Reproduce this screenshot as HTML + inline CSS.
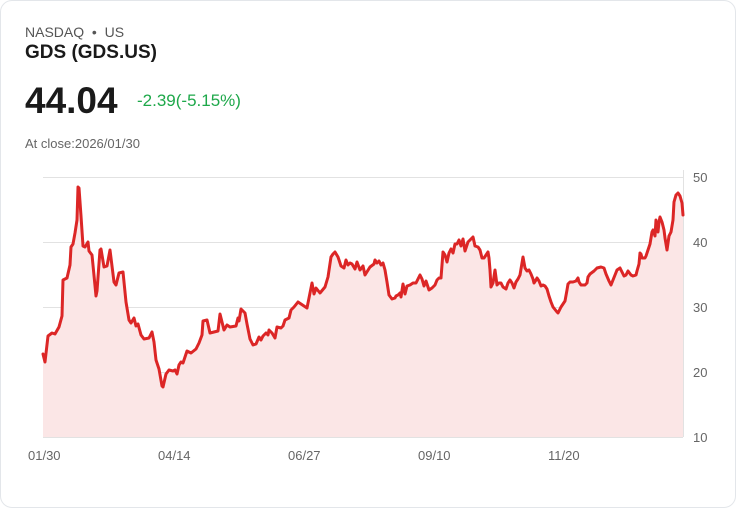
<!DOCTYPE html>
<html><head><style>
body{margin:0;background:#fff;font-family:"Liberation Sans",Arial,sans-serif;}
.card{position:absolute;left:0;top:0;width:734px;height:506px;border:1px solid #e3e6ea;border-radius:12px;background:#fff;}
.t{position:absolute;white-space:nowrap;}
</style></head><body>
<div class="card"></div>
<div class="t" style="left:25px;top:24px;font-size:14px;color:#555;">NASDAQ &nbsp;•&nbsp; US</div>
<div class="t" style="left:25px;top:42px;font-size:19px;font-weight:bold;color:#1a1a1a;">GDS (GDS.US)</div>
<div class="t" style="left:25px;top:80px;font-size:37px;font-weight:bold;color:#1a1a1a;">44.04</div>
<div class="t" style="left:137px;top:91px;font-size:17px;color:#1ea84a;">-2.39(-5.15%)</div>
<div class="t" style="left:25px;top:136px;font-size:13px;color:#666;">At close:2026/01/30</div>
<svg width="736" height="508" style="position:absolute;left:0;top:0">
<g stroke="#e2e2e2" stroke-width="1">
<line x1="43" y1="177.5" x2="683" y2="177.5"/><line x1="43" y1="242.5" x2="683" y2="242.5"/>
<line x1="43" y1="307.5" x2="683" y2="307.5"/><line x1="43" y1="372.5" x2="683" y2="372.5"/>
<line x1="43" y1="437.5" x2="683" y2="437.5"/><line x1="683.5" y1="170" x2="683.5" y2="437"/>
</g>
<g font-size="13" fill="#666" font-family="Liberation Sans,Arial,sans-serif">
<text x="693" y="182">50</text><text x="693" y="247">40</text><text x="693" y="312">30</text><text x="693" y="377">20</text><text x="693" y="442">10</text>
<text x="28" y="460">01/30</text><text x="158" y="460">04/14</text><text x="288" y="460">06/27</text><text x="418" y="460">09/10</text><text x="548" y="460">11/20</text>
</g>
<path id="p" fill="#fbe6e6" stroke="none" d="M43,437 L43,354 45,362 48,336 52,333 55,334 59,327 62,316 63,280 67,278 70,265 71,247 73,244 75,233 77,220 78,187 79,188 81,216 83,246 85,247 88,242 89,251 92,255 96,296 97,291 100,250 101,249 104,267 107,266 110,250 114,282 116,285 119,273 123,272 126,302 129,320 131,323 134,318 136,326 138,324 141,335 144,339 149,338 152,332 154,342 156,360 159,369 162,386 163,387 166,374 169,370 173,371 175,370 177,374 179,365 181,362 183,363 187,351 191,353 196,349 199,343 202,335 203,321 207,320 210,333 218,331 220,314 224,330 227,325 230,327 236,326 238,318 239,321 241,309 245,313 247,324 250,339 253,345 256,344 259,337 261,340 263,336 266,333 268,335 269,330 272,333 275,338 277,327 281,328 283,326 285,320 289,318 291,310 294,307 298,302 307,308 312,283 314,294 316,288 320,293 325,287 328,277 331,257 333,254 335,252 338,257 341,266 344,268 346,260 348,265 350,263 352,264 355,269 357,262 360,270 363,266 365,275 370,267 374,264 375,260 377,263 379,261 381,265 383,263 385,270 387,282 389,295 392,299 395,298 396,296 398,295 400,293 401,297 403,284 405,294 407,286 410,285 413,283 416,283 418,279 420,275 422,279 424,286 426,281 429,290 432,288 435,285 437,280 439,278 441,278 443,252 445,255 447,262 449,253 451,249 453,253 455,244 457,244 459,240 461,246 463,239 465,251 468,242 470,240 473,237 475,246 478,247 480,250 482,258 484,258 486,255 488,252 489,258 490,270 491,287 493,283 495,270 497,285 499,283 501,283 503,287 506,289 508,283 510,280 512,283 514,288 516,282 518,279 520,275 521,269 523,257 525,268 527,271 529,270 531,274 533,279 534,283 536,280 537,278 539,281 541,286 543,285 545,286 547,289 549,296 551,302 553,307 557,312 558,313 561,307 565,301 567,290 568,284 570,282 573,282 576,281 578,278 579,282 581,285 585,285 587,283 588,277 590,274 594,271 597,268 601,267 604,268 606,274 609,281 611,285 613,280 615,275 617,270 620,268 622,272 624,276 626,275 628,271 631,275 633,276 636,275 637,271 639,264 640,253 641,254 642,258 645,258 646,256 648,250 650,244 652,232 653,230 655,236 656,220 658,232 659,222 660,217 662,222 664,230 665,238 666,244 667,250 669,236 671,232 673,220 674,202 676,195 678,193 680,196 682,203 683,215 L683,437 Z"/>
<polyline fill="none" stroke="#dc2626" stroke-width="3" stroke-linejoin="round" stroke-linecap="round" points="43,354 45,362 48,336 52,333 55,334 59,327 62,316 63,280 67,278 70,265 71,247 73,244 75,233 77,220 78,187 79,188 81,216 83,246 85,247 88,242 89,251 92,255 96,296 97,291 100,250 101,249 104,267 107,266 110,250 114,282 116,285 119,273 123,272 126,302 129,320 131,323 134,318 136,326 138,324 141,335 144,339 149,338 152,332 154,342 156,360 159,369 162,386 163,387 166,374 169,370 173,371 175,370 177,374 179,365 181,362 183,363 187,351 191,353 196,349 199,343 202,335 203,321 207,320 210,333 218,331 220,314 224,330 227,325 230,327 236,326 238,318 239,321 241,309 245,313 247,324 250,339 253,345 256,344 259,337 261,340 263,336 266,333 268,335 269,330 272,333 275,338 277,327 281,328 283,326 285,320 289,318 291,310 294,307 298,302 307,308 312,283 314,294 316,288 320,293 325,287 328,277 331,257 333,254 335,252 338,257 341,266 344,268 346,260 348,265 350,263 352,264 355,269 357,262 360,270 363,266 365,275 370,267 374,264 375,260 377,263 379,261 381,265 383,263 385,270 387,282 389,295 392,299 395,298 396,296 398,295 400,293 401,297 403,284 405,294 407,286 410,285 413,283 416,283 418,279 420,275 422,279 424,286 426,281 429,290 432,288 435,285 437,280 439,278 441,278 443,252 445,255 447,262 449,253 451,249 453,253 455,244 457,244 459,240 461,246 463,239 465,251 468,242 470,240 473,237 475,246 478,247 480,250 482,258 484,258 486,255 488,252 489,258 490,270 491,287 493,283 495,270 497,285 499,283 501,283 503,287 506,289 508,283 510,280 512,283 514,288 516,282 518,279 520,275 521,269 523,257 525,268 527,271 529,270 531,274 533,279 534,283 536,280 537,278 539,281 541,286 543,285 545,286 547,289 549,296 551,302 553,307 557,312 558,313 561,307 565,301 567,290 568,284 570,282 573,282 576,281 578,278 579,282 581,285 585,285 587,283 588,277 590,274 594,271 597,268 601,267 604,268 606,274 609,281 611,285 613,280 615,275 617,270 620,268 622,272 624,276 626,275 628,271 631,275 633,276 636,275 637,271 639,264 640,253 641,254 642,258 645,258 646,256 648,250 650,244 652,232 653,230 655,236 656,220 658,232 659,222 660,217 662,222 664,230 665,238 666,244 667,250 669,236 671,232 673,220 674,202 676,195 678,193 680,196 682,203 683,215"/>
</svg>
</body></html>
